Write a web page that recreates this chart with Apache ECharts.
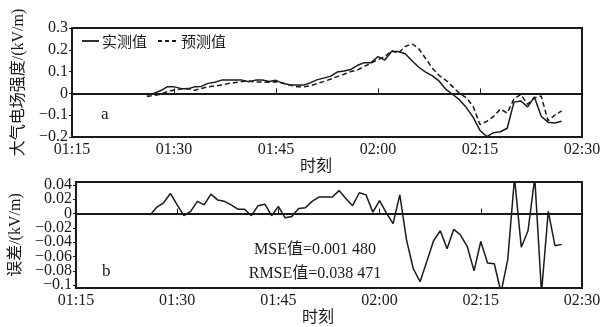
<!DOCTYPE html>
<html>
<head>
<meta charset="utf-8">
<script src="https://cdn.jsdelivr.net/npm/echarts@6/dist/echarts.min.js"></script>
<style>
html, body { margin: 0; background: #fff; }
#chart { width: 615px; height: 327px; }
</style>
</head>
<body>
<div id="chart"></div>
<script>
// one reading per minute, 01:26 - 02:27
var times = [
  '01:26', '01:27', '01:28', '01:29', '01:30', '01:31', '01:32', '01:33', '01:34', '01:35',
  '01:36', '01:37', '01:38', '01:39', '01:40', '01:41', '01:42', '01:43', '01:44', '01:45',
  '01:46', '01:47', '01:48', '01:49', '01:50', '01:51', '01:52', '01:53', '01:54', '01:55',
  '01:56', '01:57', '01:58', '01:59', '02:00', '02:01', '02:02', '02:03', '02:04', '02:05',
  '02:06', '02:07', '02:08', '02:09', '02:10', '02:11', '02:12', '02:13', '02:14', '02:15',
  '02:16', '02:17', '02:18', '02:19', '02:20', '02:21', '02:22', '02:23', '02:24', '02:25',
  '02:26', '02:27'
]
var measured = [
  -0.008, 0.000, 0.012, 0.030, 0.030, 0.023, 0.020, 0.030, 0.032, 0.046,
  0.051, 0.061, 0.061, 0.061, 0.061, 0.053, 0.061, 0.061, 0.055, 0.060,
  0.046, 0.040, 0.038, 0.038, 0.048, 0.062, 0.070, 0.078, 0.098, 0.103,
  0.110, 0.129, 0.141, 0.141, 0.169, 0.153, 0.192, 0.192, 0.182, 0.150,
  0.120, 0.098, 0.080, 0.056, 0.018, -0.005, -0.030, -0.065, -0.110, -0.170,
  -0.198, -0.180, -0.176, -0.160, -0.040, -0.035, -0.062, -0.016, -0.105, -0.132,
  -0.136, -0.128
]
var predicted = [
  -0.014, -0.010, -0.004, 0.008, 0.016, 0.020, 0.023, 0.014, 0.022, 0.030,
  0.034, 0.038, 0.045, 0.050, 0.054, 0.057, 0.052, 0.052, 0.051, 0.053,
  0.048, 0.038, 0.031, 0.030, 0.035, 0.045, 0.054, 0.065, 0.077, 0.088,
  0.100, 0.108, 0.124, 0.140, 0.155, 0.168, 0.196, 0.184, 0.215, 0.228,
  0.205, 0.160, 0.115, 0.082, 0.060, 0.030, 0.000, -0.020, -0.060, -0.143,
  -0.128, -0.105, -0.072, -0.090, -0.025, -0.005, -0.050, -0.020, -0.012, -0.125,
  -0.100, -0.080
]
var errors = [
  -0.002, 0.009, 0.015, 0.028, 0.012, -0.003, 0.003, 0.017, 0.012, 0.027,
  0.019, 0.017, 0.012, 0.006, 0.006, -0.003, 0.011, 0.013, -0.003, 0.010,
  -0.006, -0.004, 0.007, 0.008, 0.017, 0.023, 0.023, 0.023, 0.032, 0.021,
  0.011, 0.029, 0.026, 0.002, 0.018, 0.001, -0.014, 0.026, -0.037, -0.077,
  -0.095, -0.067, -0.038, -0.024, -0.049, -0.022, -0.030, -0.046, -0.080, -0.039,
  -0.069, -0.070, -0.110, -0.064, 0.050, -0.047, -0.024, 0.050, -0.110, 0.003,
  -0.045, -0.043
]
var xTicks = ['01:15', '01:30', '01:45', '02:00', '02:15', '02:30']
var fieldTicks = [-0.2, -0.1, 0, 0.1, 0.2, 0.3]
var errTicks = [-0.1, -0.08, -0.06, -0.04, -0.02, 0, 0.02, 0.04]

var serif = 'Liberation Serif, Noto Sans CJK SC'
var ink = '#1a1a1a'

function toMin (t) {
  var p = t.split(':')
  return parseInt(p[0], 10) * 60 + parseInt(p[1], 10)
}
function pairs (vals) {
  return times.map(function (t, i) { return [toMin(t), vals[i]] })
}
function hhmm (v) {
  var h = Math.floor(v / 60)
  var m = Math.round(v % 60)
  return (h < 10 ? '0' : '') + h + ':' + (m < 10 ? '0' : '') + m
}
function num (v) {
  var s = String(+(+v).toFixed(2))
  return s.replace('-', '\u2212')
}

function xAxisOf (idx) {
  return {
    type: 'value',
    gridIndex: idx,
    min: toMin(xTicks[0]),
    max: toMin(xTicks[xTicks.length - 1]),
    interval: 15,
    name: '时刻',
    nameLocation: 'middle',
    nameGap: idx === 0 ? 19 : 18,
    nameTextStyle: { fontFamily: serif, fontSize: 16, color: ink, padding: [0, 22, 0, 0] },
    axisLine: { lineStyle: { color: ink, width: 2 } },
    axisTick: { inside: true, length: 5, lineStyle: { color: ink } },
    axisLabel: { formatter: hhmm, margin: 5, fontFamily: serif, fontSize: 16, color: ink },
    splitLine: { show: false }
  }
}

// the error labels sit closer than their own height, so they are split
// over two overlaid axes (odd and even ticks) to keep all of them visible
function errAxis (ticks, withName) {
  return {
    type: 'value',
    gridIndex: 1,
    position: 'left',
    offset: 0,
    min: -0.104,
    max: 0.044,
    name: withName ? '误差/(kV/m)' : '',
    nameLocation: 'middle',
    nameGap: 45,
    nameTextStyle: { fontFamily: serif, fontSize: 16, color: ink },
    axisLine: { show: withName, lineStyle: { color: ink, width: 2 } },
    axisTick: { show: true, length: 3, customValues: ticks, lineStyle: { color: ink } },
    axisLabel: {
      formatter: num,
      customValues: ticks,
      showMinLabel: true,
      showMaxLabel: true,
      margin: 4,
      fontFamily: serif,
      fontSize: 16,
      color: ink
    },
    splitLine: { show: false }
  }
}

var chart = echarts.init(document.getElementById('chart'))
chart.setOption({
  backgroundColor: '#fff',
  animation: false,
  grid: [
    { left: 72, top: 28, width: 510, height: 109, show: true, borderColor: ink, borderWidth: 2, backgroundColor: 'transparent' },
    { left: 72, top: 182, width: 510, height: 108, show: true, borderColor: ink, borderWidth: 2, backgroundColor: 'transparent' }
  ],
  xAxis: [xAxisOf(0), xAxisOf(1)],
  yAxis: [
    {
      type: 'value',
      gridIndex: 0,
      min: fieldTicks[0],
      max: fieldTicks[fieldTicks.length - 1],
      interval: 0.1,
      name: '大气电场强度/(kV/m)',
      nameLocation: 'middle',
      nameGap: 45,
      nameTextStyle: { fontFamily: serif, fontSize: 16, color: ink },
      axisLine: { show: true, lineStyle: { color: ink, width: 2 } },
      axisTick: { show: true, length: 3, lineStyle: { color: ink } },
      axisLabel: { formatter: num, margin: 4, fontFamily: serif, fontSize: 16, color: ink },
      splitLine: { show: false }
    },
    errAxis(errTicks.filter(function (v, i) { return i % 2 === 0 }), true),
    errAxis(errTicks.filter(function (v, i) { return i % 2 === 1 }), false)
  ],
  graphic: [
    // legend drawn by hand so the dashed sample shows
    { type: 'line', shape: { x1: 82, y1: 41, x2: 99, y2: 41 }, style: { stroke: ink, lineWidth: 1.8 } },
    { type: 'text', x: 102, y: 41, style: { text: '实测值', font: '15px Noto Sans CJK SC', fill: ink, verticalAlign: 'middle' } },
    { type: 'line', shape: { x1: 158, y1: 41, x2: 177, y2: 41 }, style: { stroke: ink, lineWidth: 1.8, lineDash: [4, 3] } },
    { type: 'text', x: 181, y: 41, style: { text: '预测值', font: '15px Noto Sans CJK SC', fill: ink, verticalAlign: 'middle' } },
    { type: 'text', left: 101, top: 106, style: { text: 'a', font: '17px ' + serif, fill: ink } },
    { type: 'text', left: 102, top: 263, style: { text: 'b', font: '17px ' + serif, fill: ink } },
    { type: 'text', x: 315, y: 250, style: { text: 'MSE值=0.001 480', font: '16px ' + serif, fill: ink, align: 'center', verticalAlign: 'middle', backgroundColor: '#fff' } },
    { type: 'text', x: 315, y: 274, style: { text: 'RMSE值=0.038 471', font: '16px ' + serif, fill: ink, align: 'center', verticalAlign: 'middle', backgroundColor: '#fff' } }
  ],
  series: [
    {
      name: '实测值',
      type: 'line',
      xAxisIndex: 0,
      yAxisIndex: 0,
      data: pairs(measured),
      symbol: 'none',
      lineStyle: { color: ink, width: 1.5 },
      itemStyle: { color: ink }
    },
    {
      name: '预测值',
      type: 'line',
      xAxisIndex: 0,
      yAxisIndex: 0,
      data: pairs(predicted),
      symbol: 'none',
      lineStyle: { color: ink, width: 1.5, type: [5, 3] },
      itemStyle: { color: ink }
    },
    {
      name: '误差',
      type: 'line',
      xAxisIndex: 1,
      yAxisIndex: 1,
      data: pairs(errors),
      symbol: 'none',
      lineStyle: { color: ink, width: 1.5 },
      itemStyle: { color: ink }
    }
  ]
})
</script>
</body>
</html>
